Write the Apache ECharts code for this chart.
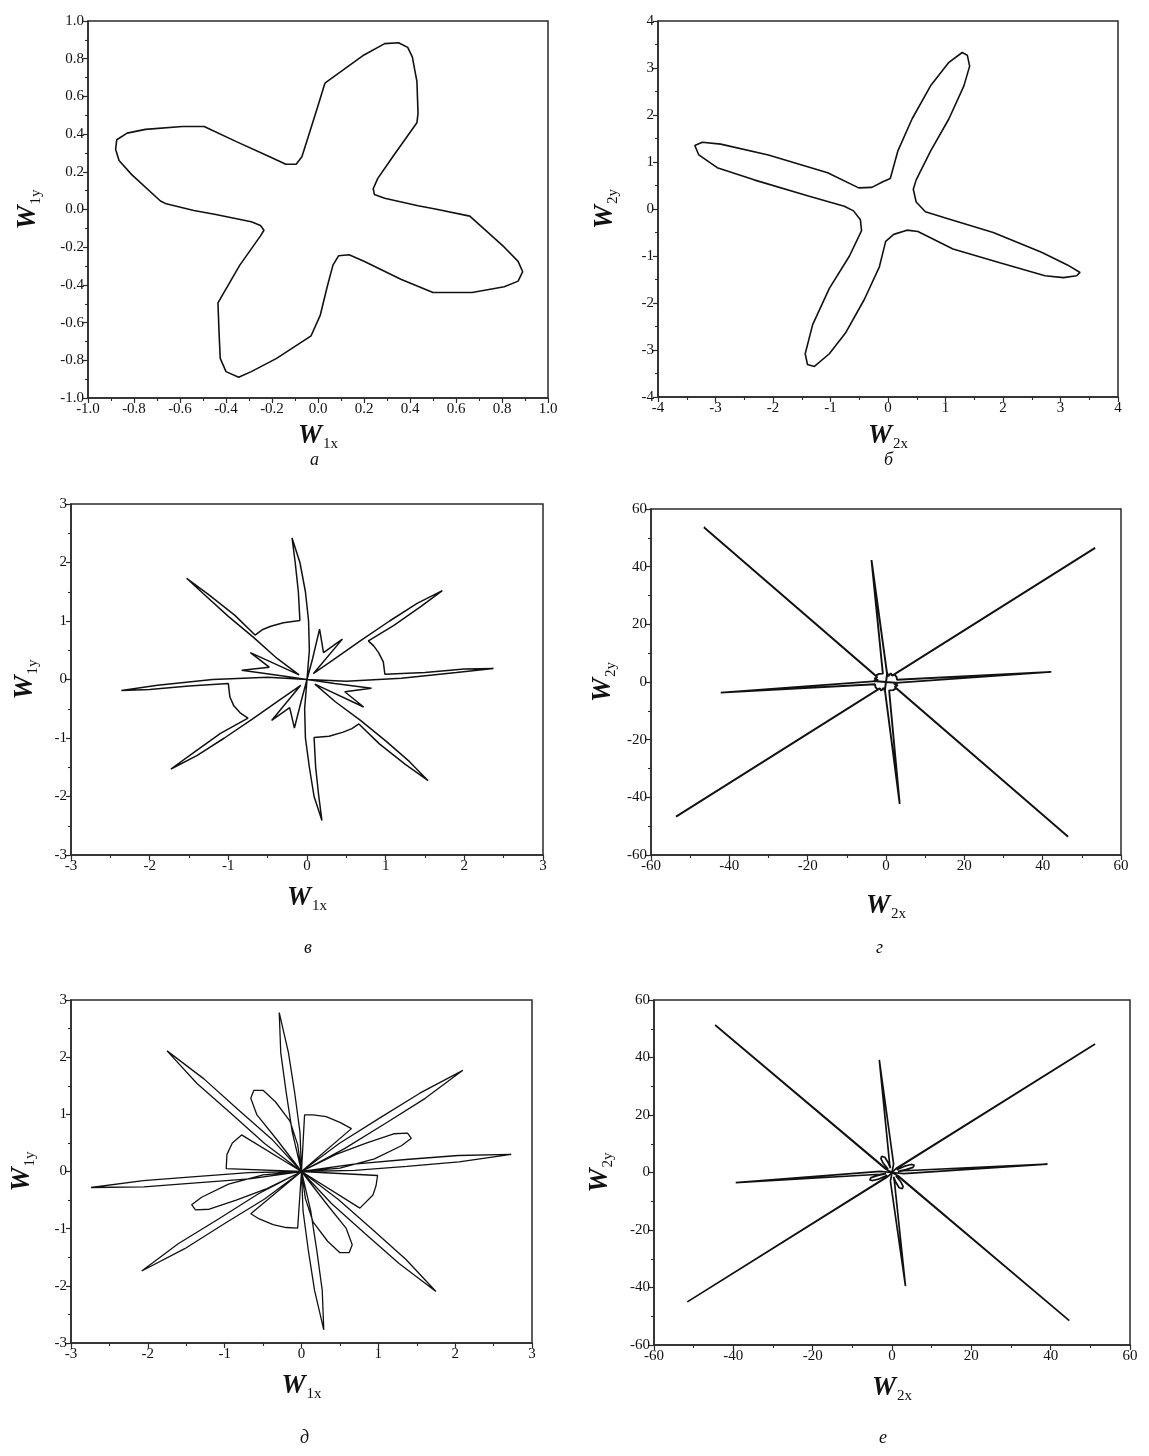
<!DOCTYPE html>
<html><head><meta charset="utf-8">
<script src="https://cdn.jsdelivr.net/npm/echarts@6/dist/echarts.min.js"></script>
<style>html,body{margin:0;padding:0;background:#fff}#c{width:1149px;height:1456px}</style>
</head><body><div id="c"></div>
<script>
// ---- data ----
const curveA = [[0.03,0.67],[0.2,0.82],[0.29,0.88],[0.35,0.885],[0.39,0.86],[0.41,0.81],[0.43,0.68],[0.435,0.51],[0.43,0.46],[0.325,0.28],[0.26,0.165],[0.24,0.11],[0.245,0.08],[0.29,0.06],[0.435,0.02],[0.51,0.003],[0.66,-0.035],[0.81,-0.2],[0.87,-0.275],[0.89,-0.33],[0.87,-0.38],[0.81,-0.41],[0.67,-0.44],[0.5,-0.44],[0.36,-0.37],[0.2,-0.275],[0.135,-0.24],[0.09,-0.245],[0.065,-0.295],[0.04,-0.41],[0.01,-0.56],[-0.03,-0.67],[-0.18,-0.79],[-0.29,-0.86],[-0.345,-0.89],[-0.4,-0.86],[-0.425,-0.79],[-0.43,-0.66],[-0.435,-0.495],[-0.34,-0.295],[-0.25,-0.14],[-0.235,-0.11],[-0.25,-0.085],[-0.29,-0.065],[-0.45,-0.025],[-0.54,-0.005],[-0.66,0.03],[-0.685,0.045],[-0.81,0.185],[-0.865,0.26],[-0.88,0.32],[-0.875,0.37],[-0.83,0.405],[-0.75,0.425],[-0.59,0.44],[-0.495,0.44],[-0.355,0.36],[-0.21,0.28],[-0.14,0.24],[-0.095,0.24],[-0.07,0.28],[-0.04,0.395],[0.0,0.55],[0.03,0.67]];

const curveB = [[0.04,0.65],[0.17,1.23],[0.42,1.92],[0.74,2.62],[1.06,3.12],[1.29,3.33],[1.38,3.27],[1.42,3.04],[1.32,2.62],[1.06,1.92],[0.74,1.23],[0.49,0.62],[0.44,0.42],[0.49,0.15],[0.65,-0.06],[1.0,-0.19],[1.83,-0.5],[2.67,-0.92],[3.12,-1.19],[3.34,-1.35],[3.28,-1.42],[3.05,-1.46],[2.73,-1.42],[1.96,-1.15],[1.13,-0.85],[0.52,-0.48],[0.33,-0.45],[0.1,-0.54],[-0.04,-0.69],[-0.15,-1.23],[-0.41,-1.92],[-0.73,-2.62],[-1.02,-3.08],[-1.28,-3.35],[-1.4,-3.31],[-1.44,-3.08],[-1.31,-2.46],[-1.02,-1.69],[-0.67,-1.0],[-0.46,-0.46],[-0.48,-0.23],[-0.6,-0.04],[-0.76,0.06],[-1.37,0.27],[-2.33,0.62],[-2.97,0.88],[-3.29,1.15],[-3.36,1.35],[-3.23,1.42],[-2.91,1.38],[-2.08,1.15],[-1.05,0.77],[-0.51,0.45],[-0.28,0.46],[-0.09,0.58],[0.04,0.65]];

const sectorV1 = [[0,0],[0.5,-0.03],[1.2,0.02],[1.9,0.12],[2.37,0.19],[2.0,0.18],[1.5,0.12],[0.99,0.09],[0.97,0.3],[0.91,0.46],[0.85,0.57],[0.78,0.66],[1.1,0.92],[1.45,1.25],[1.72,1.52],[1.4,1.3],[1.05,1.0],[0.7,0.68],[0.36,0.36],[0.08,0.1],[0.45,0.69],[0.21,0.46],[0.16,0.86],[0.07,0.35],[0,0]];
const sectorV2 = [[0.03,0.5],[0.02,1.0],[-0.02,1.5],[-0.09,2.0],[-0.19,2.42],[-0.15,2.0],[-0.11,1.5],[-0.09,1.01],[-0.3,0.97],[-0.46,0.91],[-0.57,0.85],[-0.66,0.76],[-0.92,1.1],[-1.25,1.45],[-1.53,1.73],[-1.32,1.47],[-1.0,1.08],[-0.68,0.72],[-0.38,0.36],[-0.1,0.08],[-0.72,0.46],[-0.48,0.21],[-0.83,0.16],[-0.35,0.07],[0,0]];
const sectorV3 = [[-0.5,0.04],[-1.2,0.0],[-1.9,-0.1],[-2.36,-0.19],[-2.0,-0.17],[-1.5,-0.11],[-1.0,-0.07],[-0.98,-0.3],[-0.93,-0.45],[-0.85,-0.57],[-0.75,-0.66],[-1.1,-0.92],[-1.45,-1.26],[-1.73,-1.53],[-1.4,-1.3],[-1.05,-1.0],[-0.7,-0.68],[-0.36,-0.36],[-0.08,-0.1],[-0.45,-0.7],[-0.22,-0.48],[-0.16,-0.83],[-0.07,-0.35],[0,0]];
const sectorV4 = [[-0.03,-0.5],[-0.02,-1.0],[0.03,-1.5],[0.09,-2.0],[0.19,-2.41],[0.15,-2.0],[0.11,-1.5],[0.09,-0.99],[0.28,-0.97],[0.46,-0.9],[0.57,-0.84],[0.66,-0.76],[0.92,-1.1],[1.25,-1.45],[1.54,-1.73],[1.3,-1.4],[1.0,-1.05],[0.68,-0.7],[0.36,-0.38],[0.1,-0.08],[0.72,-0.47],[0.48,-0.21],[0.82,-0.15],[0.35,-0.07],[0,0]];

const curveG = [[0,0],[2.5,-0.3],[42.2,3.5],[2.8,0.8],[2.7,1.8],[2.1,2.6],[53.4,46.5],[1.6,2.2],[1.2,3.0],[0.6,2.0],[0.3,3.2],[0,0],
  [0.3,2.6],[-3.7,42.3],[-0.8,2.9],[-1.8,2.8],[-2.6,2.2],[-46.5,53.7],[-2.2,1.6],[-3.0,1.2],[-2.0,0.6],[-3.2,0.3],[0,0],
  [-2.5,0.3],[-42.2,-3.7],[-2.8,-0.8],[-2.7,-1.8],[-2.1,-2.6],[-53.6,-46.7],[-1.6,-2.2],[-1.2,-3.0],[-0.6,-2.0],[-0.3,-3.2],[0,0],
  [-0.3,-2.6],[3.5,-42.3],[0.8,-2.9],[1.8,-2.8],[2.6,-2.2],[46.5,-53.7],[2.2,-1.6],[3.0,-1.2],[2.0,-0.6],[3.2,-0.3],[0,0]];

const lanceE_D = [[0,0],[0.68,0.13],[1.36,0.21],[2.04,0.28],[2.73,0.3],[2.05,0.17],[1.37,0.09],[0.69,0.02],[0,0]];
const petalENE_D = [[0,0],[0.45,0.3],[0.85,0.5],[1.2,0.66],[1.38,0.67],[1.43,0.58],[1.3,0.45],[0.95,0.22],[0.5,0.06],[0,0]];
const lanceNE_D = [[0,0],[0.49,0.49],[1.01,0.93],[1.54,1.37],[2.1,1.77],[1.61,1.28],[1.09,0.84],[0.56,0.4],[0,0]];
const wedgeNNE_D = [[0,0],[0.65,0.75],[0.5,0.86],[0.32,0.96],[0.15,0.99],[0.04,0.99],[0,0]];
const lanceN_D = [[0,0],[-0.02,0.69],[-0.09,1.39],[-0.17,2.08],[-0.29,2.78],[-0.27,2.08],[-0.2,1.39],[-0.12,0.69],[0,0]];
const petalNNW_D = [[0,0],[-0.34,0.59],[-0.58,0.99],[-0.66,1.28],[-0.62,1.42],[-0.5,1.42],[-0.34,1.22],[-0.15,0.88],[-0.05,0.47],[0,0]];
const lanceNW_D = [[0,0],[-0.48,0.49],[-0.92,1.02],[-1.36,1.54],[-1.75,2.11],[-1.27,1.62],[-0.83,1.09],[-0.39,0.57],[0,0]];
const wedgeWNW_D = [[0,0],[-0.78,0.64],[-0.9,0.5],[-0.97,0.3],[-0.98,0.05],[0,0]];
const lanceW_D = [[0,0],[-0.68,-0.13],[-1.37,-0.2],[-2.05,-0.27],[-2.74,-0.28],[-2.06,-0.16],[-1.38,-0.09],[-0.69,-0.02],[0,0]];
const petalWSW_D = [[0,0],[-0.45,-0.3],[-0.85,-0.5],[-1.2,-0.66],[-1.38,-0.67],[-1.43,-0.58],[-1.3,-0.45],[-0.95,-0.22],[-0.5,-0.06],[0,0]];
const lanceSW_D = [[0,0],[-0.48,-0.48],[-1.0,-0.91],[-1.52,-1.35],[-2.08,-1.74],[-1.6,-1.26],[-1.08,-0.83],[-0.56,-0.39],[0,0]];
const wedgeSSW_D = [[0,0],[-0.66,-0.74],[-0.55,-0.83],[-0.37,-0.93],[-0.2,-0.98],[-0.05,-0.99],[0,0]];
const lanceS_D = [[0,0],[0.12,-0.69],[0.2,-1.39],[0.27,-2.08],[0.29,-2.77],[0.17,-2.08],[0.09,-1.39],[0.02,-0.69],[0,0]];
const petalSSE_D = [[0,0],[0.34,-0.59],[0.58,-0.99],[0.66,-1.28],[0.62,-1.42],[0.5,-1.42],[0.34,-1.22],[0.15,-0.88],[0.05,-0.47],[0,0]];
const lanceSE_D = [[0,0],[0.48,-0.49],[0.92,-1.01],[1.36,-1.54],[1.75,-2.1],[1.27,-1.61],[0.83,-1.09],[0.39,-0.56],[0,0]];
const wedgeESE_D = [[0,0],[0.99,-0.07],[0.97,-0.25],[0.93,-0.41],[0.76,-0.64],[0,0]];

const curveE = [[0,0],[3,-0.4],[39.2,2.9],[3,0.6],[1.5,0.4],[3.5,1.0],[5.3,1.8],[5.6,2.6],[4.8,2.8],[3.2,2.2],[1.2,1.0],[1.8,1.9],[51.2,44.7],[1.2,1.6],[0,0],
  [0.4,3],[-3.2,39.2],[-0.6,3],[-0.4,1.5],[-1.0,3.5],[-1.8,5.3],[-2.6,5.6],[-2.8,4.8],[-2.2,3.2],[-1.0,1.2],[-1.9,1.8],[-44.6,51.3],[-1.6,1.2],[0,0],
  [-3,0.4],[-39.4,-3.5],[-3,-0.6],[-1.5,-0.4],[-3.5,-1.0],[-5.3,-1.8],[-5.6,-2.6],[-4.8,-2.8],[-3.2,-2.2],[-1.2,-1.0],[-1.8,-1.9],[-51.6,-45],[-1.2,-1.6],[0,0],
  [-0.4,-3],[3.4,-39.5],[0.6,-3],[0.4,-1.5],[1.0,-3.5],[1.8,-5.3],[2.6,-5.6],[2.8,-4.8],[2.2,-3.2],[1.0,-1.2],[1.9,-1.8],[44.7,-51.5],[1.6,-1.2],[0,0]];

const axesRanges = [
  {min:-1, max:1, interval:0.2, dec:1, xs:'1x', ys:'1y'},
  {min:-4, max:4, interval:1, dec:0, xs:'2x', ys:'2y'},
  {min:-3, max:3, interval:1, dec:0, xs:'1x', ys:'1y'},
  {min:-60, max:60, interval:20, dec:0, xs:'2x', ys:'2y'},
  {min:-3, max:3, interval:1, dec:0, xs:'1x', ys:'1y'},
  {min:-60, max:60, interval:20, dec:0, xs:'2x', ys:'2y'}
];
const captions = ['а','б','в','г','д','е'];

// ---- layout ----
const grids = [
  {left:88, top:21, width:460, height:377},
  {left:658, top:21, width:460, height:376},
  {left:71, top:504, width:472, height:351},
  {left:651, top:509, width:470, height:346},
  {left:71, top:1000, width:461, height:343},
  {left:654, top:1000, width:476, height:345}
];
const xNameGap = [22,23,27,35,27,27];
const yNameGap = [44,37,30,32,33,38];
const capPos = [[316,462],[890,462],[310,950],[882,950],[306,1440],[885,1440]];

const FONT = '"Liberation Serif","DejaVu Serif",serif';
const rich = {
  w:{fontFamily:FONT, fontSize:27, fontWeight:'bold', fontStyle:'italic', color:'#111', lineHeight:32},
  s:{fontFamily:FONT, fontSize:15, color:'#111', verticalAlign:'bottom', lineHeight:32, padding:[0,0,0,1]}
};
function mkAxis(i, isX){
  const r = axesRanges[i];
  return {
    type:'value', gridIndex:i, min:r.min, max:r.max, interval:r.interval,
    position: isX ? 'bottom' : 'left',
    name: '{w|W}{s|' + (isX ? r.xs : r.ys) + '}',
    nameLocation:'middle', nameGap: isX ? xNameGap[i] : yNameGap[i],
    nameTextStyle:{rich:rich},
    axisLine:{show:true, onZero:false, lineStyle:{color:'#2a2a2a', width:1.5}},
    axisTick:{show:true, inside:false, length:5, lineStyle:{color:'#2a2a2a', width:1.2}},
    minorTick:{show:true, splitNumber:2, length:3, lineStyle:{color:'#2a2a2a', width:1.1}},
    splitLine:{show:false}, minorSplitLine:{show:false},
    axisLabel:{fontFamily:FONT, fontSize:15, color:'#111', margin:4,
      formatter: v => Number(v).toFixed(r.dec)}
  };
}
const xAxis = [], yAxis = [];
for (let i=0;i<6;i++){ xAxis.push(mkAxis(i,true)); yAxis.push(mkAxis(i,false)); }

const curveV = [].concat(sectorV1, sectorV2, sectorV3, sectorV4);
const curveD = [].concat(lanceE_D, petalENE_D, lanceNE_D, wedgeNNE_D, lanceN_D, petalNNW_D, lanceNW_D, wedgeWNW_D,
  lanceW_D, petalWSW_D, lanceSW_D, wedgeSSW_D, lanceS_D, petalSSE_D, lanceSE_D, wedgeESE_D);
const curves = [curveA, curveB, curveV, curveG, curveD, curveE];
const widths = [1.6, 1.6, 1.5, 1.9, 1.3, 1.7];

const series = curves.map((d,i)=>({
  type:'line', xAxisIndex:i, yAxisIndex:i, data:d, showSymbol:false, symbol:'none',
  smooth:false, silent:true, lineStyle:{color:'#111', width:widths[i]}
}));

const graphic = captions.map((c,i)=>({
  type:'text', left:capPos[i][0]-6, top:capPos[i][1]-11,
  style:{text:c, font:'italic 18px ' + FONT, fill:'#111'}
}));

const chart = echarts.init(document.getElementById('c'), null, {renderer:'canvas'});
chart.setOption({
  backgroundColor:'#fff', animation:false,
  grid: grids.map(g=>Object.assign({show:true, borderColor:'#2a2a2a', borderWidth:1.5, backgroundColor:'transparent'}, g)),
  xAxis, yAxis, series, graphic
});
</script></body></html>
